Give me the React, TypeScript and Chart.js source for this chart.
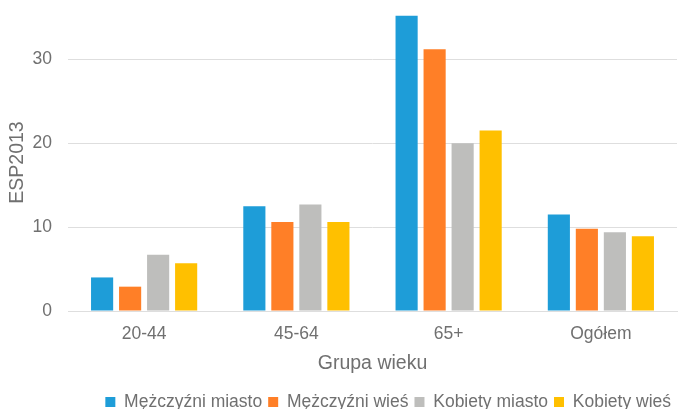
import React, { useEffect, useRef } from "react";
import { Chart, registerables } from "chart.js";

Chart.register(...registerables);

const categories = ["20-44", "45-64", "65+", "Ogółem"];
const seriesNames = ["Mężczyźni miasto", "Mężczyźni wieś", "Kobiety miasto", "Kobiety wieś"];
const menCity = [4.0, 12.5, 35.2, 11.5];
const menRural = [2.9, 10.6, 31.2, 9.8];
const womenCity = [6.7, 12.7, 20.0, 9.4];
const womenRural = [5.7, 10.6, 21.5, 8.9];
const yTicks = [0, 10, 20, 30];
const yTitle = "ESP2013";
const xTitle = "Grupa wieku";

const colors = ["#1e9dd8", "#ff7f27", "#bebebc", "#ffc000"];
const FONT = "'Liberation Sans', Arial, sans-serif";
const TEXT = "#707070";
const GRID = "#dedede";

export default function App() {
  const ref = useRef<HTMLCanvasElement>(null);
  useEffect(() => {
    document.body.style.margin = "0";
    const seriesValues = [menCity, menRural, womenCity, womenRural];
    const chart = new Chart(ref.current!, {
      type: "bar",
      data: {
        labels: categories,
        datasets: seriesNames.map((name, i) => ({
          label: name,
          data: seriesValues[i],
          backgroundColor: colors[i],
          borderWidth: 0,
          categoryPercentage: 0.736,
          barPercentage: 0.79,
        })),
      },
      options: {
        animation: false,
        responsive: false,
        devicePixelRatio: 1,
        layout: { padding: { top: 14, right: 1, left: 0, bottom: -11.75 } },
        plugins: {
          tooltip: { enabled: false },
          legend: {
            position: "bottom",
            align: "end",
            labels: {
              boxWidth: 10,
              boxHeight: 10,
              padding: 6,
              color: TEXT,
              font: { family: FONT, size: 17.5 },
            },
          },
        },
        scales: {
          x: {
            grid: { display: false, drawTicks: false },
            border: { display: true, color: GRID },
            ticks: { color: TEXT, font: { family: FONT, size: 17.5 }, padding: 13 },
            title: {
              display: true,
              text: xTitle,
              color: TEXT,
              font: { family: FONT, size: 19.5 },
              padding: { top: 6, bottom: 11.5 },
            },
            afterFit: (scale: any) => {
              scale.height = 76.25;
            },
          },
          y: {
            min: 0,
            max: 35.4,
            grid: { color: GRID, drawTicks: true, tickLength: 16, tickColor: "rgba(0,0,0,0)" },
            border: { display: false },
            ticks: { color: TEXT, font: { family: FONT, size: 17.5 }, padding: 0 },
            afterBuildTicks: (scale: any) => {
              scale.ticks = yTicks.map((v) => ({ value: v }));
            },
            title: {
              display: true,
              text: yTitle,
              color: TEXT,
              font: { family: FONT, size: 19.5 },
              padding: { top: 6.3, bottom: 0 },
            },
            afterFit: (scale: any) => {
              scale.width = 68;
            },
          },
        },
      },
    });
    return () => chart.destroy();
  }, []);
  return (
    <div style={{ width: 678, height: 409 }}>
      <canvas ref={ref} width={678} height={409} />
    </div>
  );
}
